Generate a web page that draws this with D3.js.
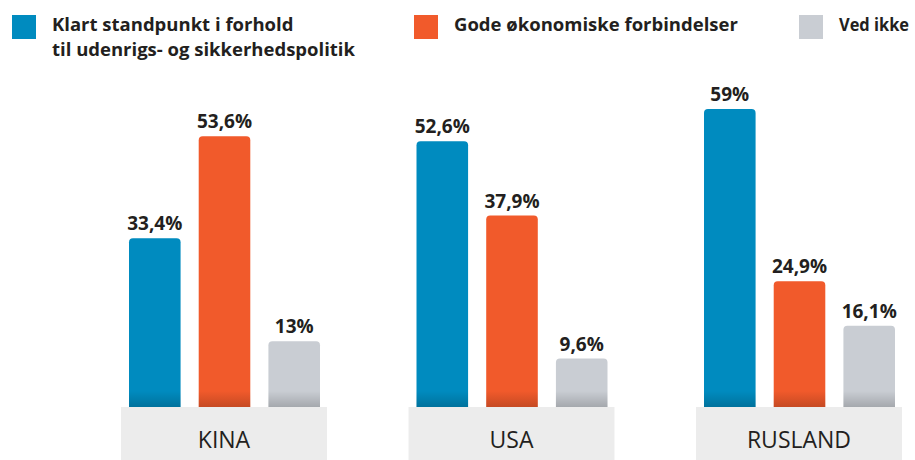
<!DOCTYPE html>
<html>
<head>
<meta charset="utf-8">
<script src="https://cdn.jsdelivr.net/npm/d3@7"></script>
<style>
  body { margin: 0; background: #fff; }
  svg text { font-family: "Open Sans", "Noto Sans", sans-serif; }
</style>
</head>
<body>
<div id="chart"></div>
<script>
// data
var countries = ["KINA", "USA", "RUSLAND"];
var series = ["Klart standpunkt i forhold\ntil udenrigs- og sikkerhedspolitik", "Gode økonomiske forbindelser", "Ved ikke"];
var standpunkt = [33.4, 52.6, 59];
var oekonomi = [53.6, 37.9, 24.9];
var vedIkke = [13, 9.6, 16.1];
var labels = [["33,4%", "53,6%", "13%"], ["52,6%", "37,9%", "9,6%"], ["59%", "24,9%", "16,1%"]];

var colors = ["#008bbf", "#f15a2b", "#c9cdd3"];
var width = 915, height = 460;
var baseY = 407;

var svg = d3.select("#chart").append("svg")
    .attr("width", width)
    .attr("height", height);

var defs = svg.append("defs");
var grad = defs.append("linearGradient")
    .attr("id", "shade").attr("x1", 0).attr("x2", 0).attr("y1", 0).attr("y2", 1);
grad.append("stop").attr("offset", "0%").attr("stop-color", "#000").attr("stop-opacity", 0);
grad.append("stop").attr("offset", "100%").attr("stop-color", "#000").attr("stop-opacity", 0.18);

var x0 = d3.scaleBand().domain(countries).range([121, 902]).paddingInner(0.2835).paddingOuter(0);
var x1 = d3.scaleBand().domain(d3.range(3)).range([8, 199]).paddingInner(0.26).paddingOuter(0);
var y = d3.scaleLinear().domain([0, 59]).range([baseY, 109]);

var rows = countries.map(function(c, i) {
    return {country: c, values: [standpunkt[i], oekonomi[i], vedIkke[i]], labels: labels[i]};
});

function topRounded(x, y0, w, h, r) {
    return "M" + x + "," + (y0 + h) +
        "V" + (y0 + r) +
        "Q" + x + "," + y0 + " " + (x + r) + "," + y0 +
        "H" + (x + w - r) +
        "Q" + (x + w) + "," + y0 + " " + (x + w) + "," + (y0 + r) +
        "V" + (y0 + h) + "Z";
}

var group = svg.selectAll("g.country")
    .data(rows)
    .join("g")
    .attr("class", "country")
    .attr("transform", function(d) { return "translate(" + x0(d.country) + ",0)"; });

// label boxes
group.append("rect")
    .attr("x", 0)
    .attr("y", baseY)
    .attr("width", x0.bandwidth())
    .attr("height", height - baseY)
    .attr("fill", "#ececec");

group.append("text")
    .attr("x", x0.bandwidth() / 2)
    .attr("y", 448)
    .attr("text-anchor", "middle")
    .attr("font-size", 23)
    .attr("fill", "#231f20")
    .text(function(d) { return d.country; });

var bars = group.selectAll("g.bar")
    .data(function(d) { return d.values.map(function(v, k) { return {k: k, v: v, label: d.labels[k]}; }); })
    .join("g")
    .attr("class", "bar");

bars.append("path")
    .attr("d", function(d) { return topRounded(x1(d.k), y(d.v), x1.bandwidth(), baseY - y(d.v), 4); })
    .attr("fill", function(d) { return colors[d.k]; });

bars.append("rect")
    .attr("x", function(d) { return x1(d.k); })
    .attr("y", baseY - 16)
    .attr("width", x1.bandwidth())
    .attr("height", 16)
    .attr("fill", "url(#shade)");

bars.append("text")
    .attr("x", function(d) { return x1(d.k) + x1.bandwidth() / 2; })
    .attr("y", function(d) { return y(d.v) - 8; })
    .attr("text-anchor", "middle")
    .attr("font-size", 19)
    .attr("font-weight", "bold")
    .attr("fill", "#231f20")
    .text(function(d) { return d.label; });

// legend
var legendX = [12, 414, 799];
var legend = svg.selectAll("g.legend")
    .data(series)
    .join("g")
    .attr("class", "legend")
    .attr("transform", function(d, i) { return "translate(" + legendX[i] + ",15)"; });

legend.append("rect")
    .attr("width", 24).attr("height", 24)
    .attr("fill", function(d, i) { return colors[i]; });

legend.append("text")
    .attr("x", 40)
    .attr("y", 16)
    .attr("font-size", 18.5)
    .attr("font-weight", "bold")
    .attr("fill", "#231f20")
    .selectAll("tspan")
    .data(function(d) { return d.split("\n"); })
    .join("tspan")
    .attr("x", 40)
    .attr("dy", function(d, i) { return i ? 25 : 0; })
    .text(function(d) { return d; });

// squeeze the last legend label so it fits inside the picture
legend.each(function(d, i) {
    var t = d3.select(this).select("text");
    var room = width - legendX[i] - 40 - 6;
    var w = t.node().getComputedTextLength();
    if (w > room) t.attr("font-size", 18).select("tspan").attr("textLength", room).attr("lengthAdjust", "spacingAndGlyphs");
});
</script>
</body>
</html>
